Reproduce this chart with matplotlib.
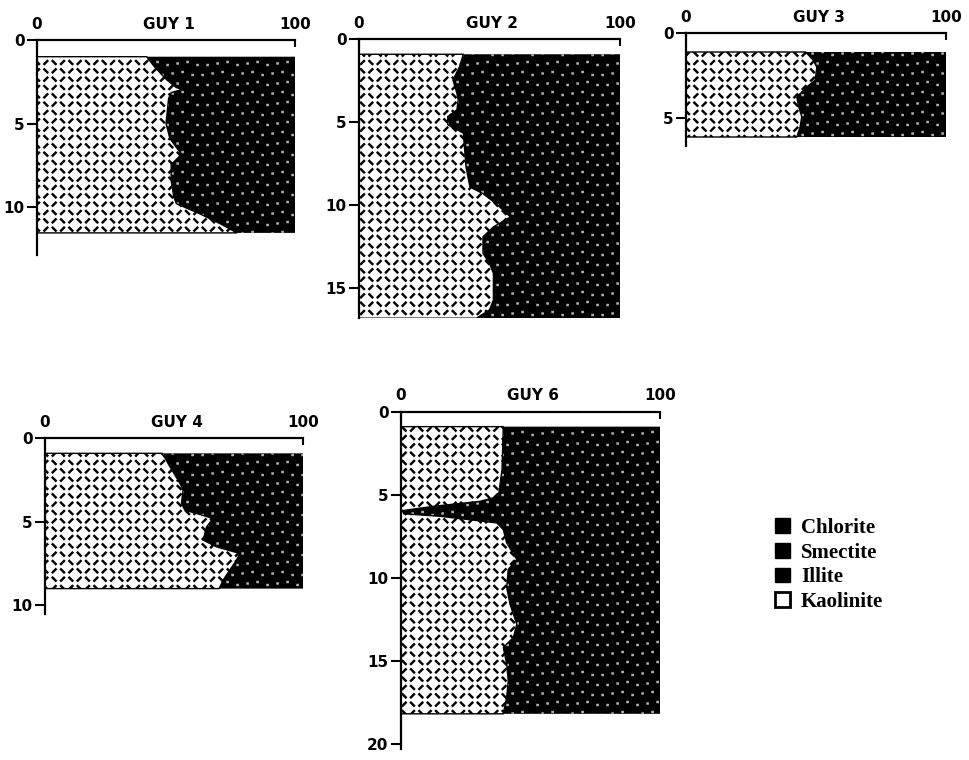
import numpy as np
import matplotlib.pyplot as plt
from matplotlib import hatch as mhatch
from matplotlib.path import Path
from matplotlib.patches import Patch
from matplotlib.ticker import MultipleLocator

#%% Values: depth (m) and kaolinite share (%)
# everything right of the kaolinite line (chlorite + smectite + illite) is black

guy1_depth = [1.0, 1.6, 2.35, 2.85, 2.95, 3.15, 3.5, 5.0, 5.9, 6.85, 7.45,
              8.4, 9.4, 9.8, 10.4, 11.0, 11.55]
guy1_kaol = [42.5, 45.5, 50, 54, 56.5, 52, 51, 50, 51.5, 56, 52,
             52, 53, 54, 63, 71, 77.5]

guy2_depth = [0.9, 1.65, 2.45, 3.25, 3.65, 4.25, 4.65, 5.15, 5.65, 6.7, 7.7,
              8.9, 9.3, 9.9, 10.7, 11.3, 11.9, 12.9, 13.5, 14.1, 15.7, 16.3, 16.8]
guy2_kaol = [40, 38.5, 36, 37.5, 38, 37.5, 34, 34, 40, 40.5, 41,
             42.5, 47.5, 52.5, 58, 51.5, 47.5, 47.5, 50, 51.5, 51.5, 50, 45]

guy3_depth = [1.1, 1.6, 2.0, 2.75, 3.15, 3.75, 4.3, 4.9, 5.5, 6.1]
guy3_kaol = [46, 49, 50.3, 49.7, 46.5, 42.6, 43.3, 44.5, 43.9, 42.6]

guy4_depth = [0.9, 1.7, 2.7, 3.1, 3.9, 4.3, 4.8, 5.3, 6.1, 6.5, 6.9, 7.3,
              7.9, 8.5, 9.0]
guy4_kaol = [45.5, 48.4, 52.3, 53.5, 52.9, 54.2, 65.2, 62.6, 61.3, 66.5, 75.5, 74.2,
             71.6, 69, 67.5]

guy6_depth = [0.9, 3.5, 5.1, 5.4, 5.7, 5.95, 6.15, 6.3, 6.7, 7.1, 7.9, 8.9,
              9.5, 10.6, 11.6, 12.8, 13.6, 14.2, 15.2, 16.2, 17.2, 18.2]
guy6_kaol = [39.5, 39, 37.6, 30.5, 12.5, 1, 1, 15, 37, 39.5, 40.8, 44.7,
             41.4, 40.8, 42.1, 44.7, 43.4, 39.5, 40.8, 41.4, 40.8, 39.5]

titles = ['GUY 1', 'GUY 2', 'GUY 3', 'GUY 4', 'GUY 6']
depths = [guy1_depth, guy2_depth, guy3_depth, guy4_depth, guy6_depth]
kaols = [guy1_kaol, guy2_kaol, guy3_kaol, guy4_kaol, guy6_kaol]
depth_axis_end = [12.9, 16.8, 6.6, 10.5, 20.3]

legend_labels = ['Chlorite', 'Smectite', 'Illite', 'Kaolinite']


#%% Two home-made hatches: '*' -> kaolinite dashes, 'o' -> pale specks

class DashHatch(mhatch.HatchPatternBase):
    """short / and \\ dashes in a checkerboard"""
    def __init__(self, hatch, density):
        self.n = 12 if '*' in hatch else 0
        self.num_vertices = 2 * self.n ** 2

    def set_vertices_and_codes(self, vertices, codes):
        i, j = np.meshgrid(np.arange(self.n), np.arange(self.n))
        cx = ((i + 0.5) / self.n).ravel()
        cy = ((j + 0.5) / self.n).ravel()
        s = np.where((i + j).ravel() % 2, 1.0, -1.0)
        h = 0.18 / self.n
        vertices[0::2] = np.column_stack([cx - h, cy - s * h])
        vertices[1::2] = np.column_stack([cx + h, cy + s * h])
        codes[0::2] = Path.MOVETO
        codes[1::2] = Path.LINETO


class SpeckHatch(mhatch.HatchPatternBase):
    """tiny specks on a staggered grid"""
    def __init__(self, hatch, density):
        self.n = 10 if 'o' in hatch else 0
        self.num_vertices = 2 * self.n ** 2

    def set_vertices_and_codes(self, vertices, codes):
        i, j = np.meshgrid(np.arange(self.n), np.arange(self.n))
        x = ((i + 0.25 + 0.5 * (j % 2)) / self.n).ravel()
        y = ((j + 0.5 + 0.15 * (i % 3)) / self.n).ravel()
        vertices[0::2] = np.column_stack([x, y])
        vertices[1::2] = np.column_stack([x + 0.002, y])
        codes[0::2] = Path.MOVETO
        codes[1::2] = Path.LINETO


mhatch._hatch_types = [DashHatch if t is mhatch.Stars
                       else SpeckHatch if t is mhatch.SmallCircles
                       else t for t in mhatch._hatch_types]

plt.rcParams['hatch.linewidth'] = 1.75
plt.rcParams['font.weight'] = 'bold'

#%% Figure

W, H = 969, 760
fig = plt.figure(figsize=(W / 100, H / 100), dpi=100)

# panel frames in pixels: left, right, y of depth 0, pixels per metre
frames = [(37, 295, 40, 16.7), (359, 620, 39.3, 16.6), (686, 946, 33.3, 17.0),
          (45, 303, 438.3, 16.7), (401, 660, 411.7, 16.6)]

for title, depth, kaol, dmax, (left, right, top, ppm) in zip(
        titles, depths, kaols, depth_axis_end, frames):
    bottom = top + ppm * dmax
    ax = fig.add_axes([left / W, 1 - bottom / H, (right - left) / W, (bottom - top) / H])

    ax.fill_betweenx(depth, kaol, 100, facecolor='black', edgecolor='0.7',
                     hatch='o', linewidth=0)
    ax.fill_betweenx(depth, 0, kaol, facecolor='white', edgecolor='black',
                     hatch='*', linewidth=1.0)

    ax.set_xlim(0, 100)
    ax.set_ylim(dmax, 0)
    ax.spines[['right', 'bottom']].set_visible(False)
    ax.spines[['top', 'left']].set_linewidth(1.6)

    ax.xaxis.tick_top()
    ax.set_xticks([0, 100])
    ax.tick_params(axis='x', direction='in', length=5, width=1.5, pad=6, labelsize=11)
    ax.yaxis.set_major_locator(MultipleLocator(5))
    ax.tick_params(axis='y', direction='out', length=7, width=1.5, pad=2, labelsize=11)

    ax.annotate(title, xy=(0.51, 1), xycoords='axes fraction', xytext=(0, 6),
                textcoords='offset points', ha='center', va='bottom', fontsize=11)

handles = [Patch(facecolor='black', edgecolor='black')] * 3 + \
          [Patch(facecolor='white', edgecolor='black', linewidth=2)]
fig.legend(handles, legend_labels, loc='upper left',
           bbox_to_anchor=(775 / W, 1 - 518 / H), frameon=False,
           prop={'family': 'Liberation Serif', 'weight': 'bold', 'size': 15},
           handlelength=0.7, handleheight=0.7, handletextpad=0.55,
           labelspacing=0.22, borderpad=0, borderaxespad=0)

fig.savefig('out.png', dpi=100)
